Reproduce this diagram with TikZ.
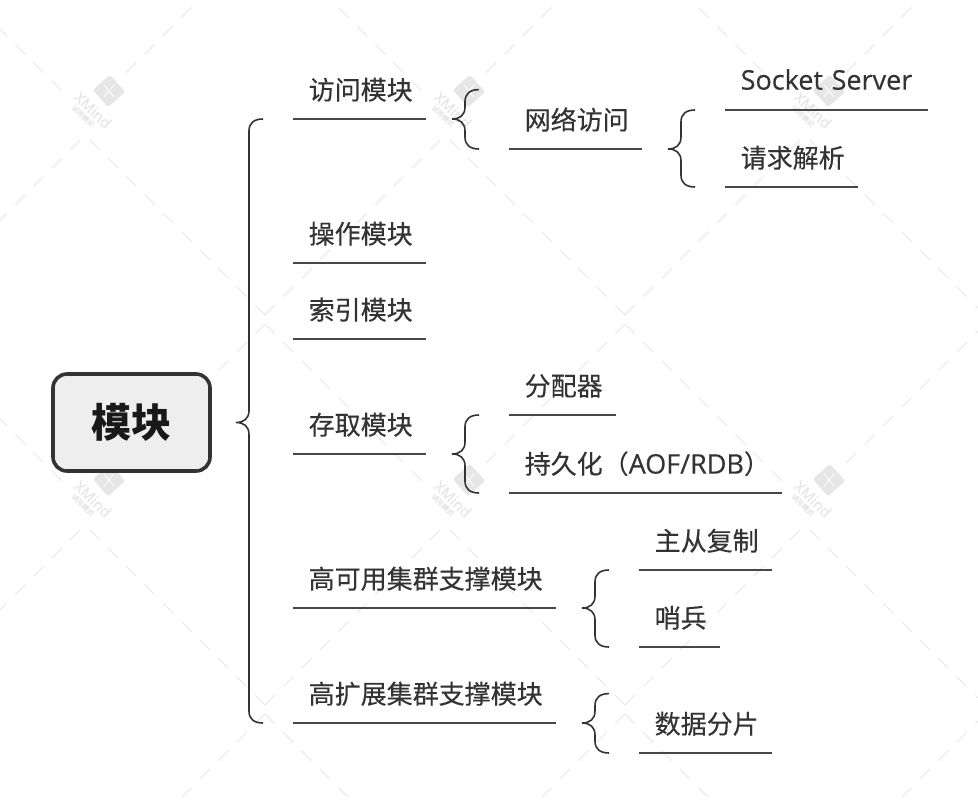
\documentclass[tikz,border=0pt]{standalone}
\usepackage{fontspec}
\setmainfont{Noto Sans CJK SC}[UprightFeatures={FakeBold=0.3}]
\newfontfamily\latinfont{Open Sans}[FakeBold=0.3]
\usetikzlibrary{calc}
\definecolor{inkdark}{HTML}{333333}
\definecolor{rootfill}{HTML}{EEEEEE}
\definecolor{markgray}{HTML}{E6E6E6}
\newcommand{\bracelink}[3]{%
  \draw[bracket] let \p1=(#1), \p2=(#2), \p3=(#3) in
    (\x2,\y2) .. controls (\x2-9pt,\y2) and (\x2-14pt,\y2-4pt) .. (\x2-14pt,\y2-12pt)
    -- (\x2-14pt,\y1+12pt) .. controls (\x2-14pt,\y1+4pt) and (\x2-19pt,\y1) .. (\x2-27pt,\y1)
    .. controls (\x2-19pt,\y1) and (\x2-14pt,\y1-4pt) .. (\x2-14pt,\y1-12pt)
    -- (\x2-14pt,\y3+12pt) .. controls (\x2-14pt,\y3+4pt) and (\x2-9pt,\y3) .. (\x3,\y3);}
\begin{document}
\begin{tikzpicture}[x=1pt, y=-1pt,
    topic/.style = {anchor=south west, minimum height=59pt, inner xsep=15.5pt, inner ysep=0pt,
      text height=21pt, text depth=0.4pt, align=left, text=inkdark,
      font=\fontsize{26}{30}\selectfont},
    rootbox/.style = {draw=inkdark, line width=3.6pt, fill=rootfill, rounded corners=14pt,
      minimum width=157pt, minimum height=97pt, inner sep=0pt, text=black!90,
      font=\fontsize{40}{46}\selectfont\bfseries},
    underline/.style = {draw=inkdark!90, line width=1.6pt},
    bracket/.style = {draw=inkdark, line width=1.6pt},
    wmline/.style = {draw=markgray, line width=1pt, dash pattern=on 14pt off 12pt},
    wmbox/.style = {fill=markgray, rounded corners=2.5pt, minimum size=23pt, inner sep=0pt, rotate=42},
    wmtext/.style = {text=markgray, inner sep=0pt, rotate=-44}]
  \useasboundingbox (0,0) rectangle (978,804);
  % watermark
  \begin{scope}
    \clip (0,0) rectangle (978,804);
    \foreach \cx in {-95,265,625,985}
      \foreach \cy in {-66,324,714} {
        \draw[wmline] (\cx,\cy-9) -- ++(-175,-175);
        \draw[wmline] (\cx,\cy-9) -- ++(175,-175);
        \draw[wmline] (\cx,\cy) -- ++(-140,140);
        \draw[wmline] (\cx,\cy) -- ++(158,158);
      }
    \foreach \lx in {109,469,829}
      \foreach \ly in {91,480} {
        \node[wmbox] (logo) at (\lx,\ly) {};
        \draw[white, line width=0.8pt] (\lx-5,\ly-6) -- (\lx+5,\ly+6);
        \draw[white, line width=0.8pt] (\lx-5,\ly+6) -- (\lx+5,\ly-6);
        \node[wmtext, font=\latinfont\fontsize{15}{18}\selectfont] (logotext) at (\lx-16,\ly+19) {XMind};
        \node[wmtext, font=\fontsize{7}{8}\selectfont] (logonote) at (\lx-26,\ly+25) {试用模式};
      }
  \end{scope}
  % topics
  \node[rootbox] (root) at (131.5,422.5) {模块};
  \node[topic, text width=102pt] (access) at (293,119) {访问模块};
  \node[topic, text width=102pt] (operate) at (293,263) {操作模块};
  \node[topic, text width=102pt] (index) at (293,339) {索引模块};
  \node[topic, text width=102pt] (store) at (293,454) {存取模块};
  \node[topic, text width=232pt] (avail) at (293,608) {高可用集群支撑模块};
  \node[topic, text width=232pt] (scale) at (293,723) {高扩展集群支撑模块};
  \node[topic, text width=102pt] (network) at (509,149) {网络访问};
  \node[topic, text width=172pt] (socket) at (725,110) {\raisebox{1pt}{\latinfont\fontsize{27}{30}\selectfont Socket Server}};
  \node[topic, text width=102pt] (parser) at (725,187) {请求解析};
  \node[topic, text width=76pt] (alloc) at (509,415) {分配器};
  \node[topic, text width=242pt] (persist) at (509,493) {持久化（{\latinfont\fontsize{27}{30}\selectfont AOF/RDB}）};
  \node[topic, text width=102pt] (replica) at (639,570) {主从复制};
  \node[topic, text width=50pt] (sentinel) at (639,647) {哨兵};
  \node[topic, text width=102pt] (shard) at (639,753) {数据分片};
  \foreach \n in {access,operate,index,store,avail,scale,network,socket,parser,alloc,persist,replica,sentinel,shard}
    \draw[underline] (\n.south west) -- (\n.south east);
  % braces
  \bracelink{root.east}{$(access.south west)+(-30,0)$}{$(scale.south west)+(-30,0)$}
  \bracelink{access.south east}{$(network.north west)+(-30,0)$}{$(network.south west)+(-30,0)$}
  \bracelink{network.south east}{$(socket.south west)+(-30,0)$}{$(parser.south west)+(-30,0)$}
  \bracelink{store.south east}{$(alloc.south west)+(-30,0)$}{$(persist.south west)+(-30,0)$}
  \bracelink{avail.south east}{$(replica.south west)+(-30,0)$}{$(sentinel.south west)+(-30,0)$}
  \bracelink{scale.south east}{$(shard.north west)+(-30,0)$}{$(shard.south west)+(-30,0)$}
\end{tikzpicture}
\end{document}
